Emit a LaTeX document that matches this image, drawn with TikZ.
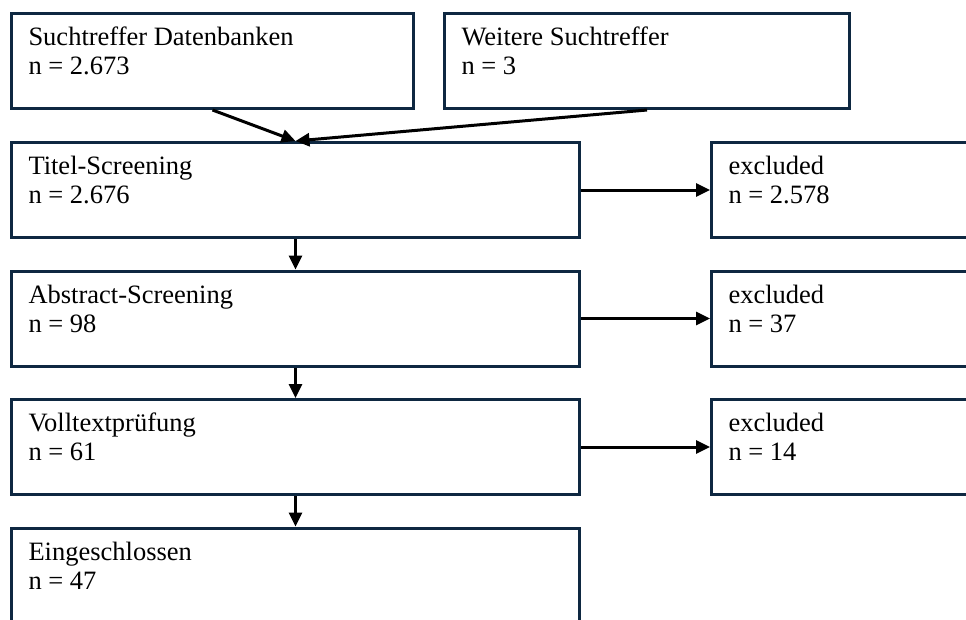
\documentclass[tikz,border=0pt]{standalone}
\usepackage{fontspec}
\setmainfont{Liberation Serif}
\usepackage{xcolor}
\usepackage{tikz}
\usetikzlibrary{arrows.meta}
\definecolor{boxline}{HTML}{0E2841}

\begin{document}
\begin{tikzpicture}[x=1pt, y=-1pt,
  every node/.style={font=\fontsize{26.5}{29}\selectfont},
  box/.style={draw=boxline, line width=3pt, rectangle, anchor=north west,
              align=flush left, inner xsep=17pt, inner ysep=0pt,
              text height=32pt, text depth=63pt},
  top/.style={box, text width=368pt},
  wide/.style={box, text width=534pt},
  side/.style={box, text width=266pt},
  arr/.style={-{Triangle[length=14pt,width=13pt]}, line width=3pt}
]
\useasboundingbox (0,0) rectangle (966,619);
\fill[white] (0,0) rectangle (966,619);
\clip (0,0) rectangle (966,619);

%% Search results
\node[top] (db)   at (10,12)  {Suchtreffer Datenbanken\\n = 2.673};
\node[box, text width=371pt] (more) at (443,12) {Weitere Suchtreffer\\n = 3};

%% Screening column
\node[wide] (title) at (10,141)   {Titel-Screening\\n = 2.676};
\node[wide] (abstr) at (10,269.5) {Abstract-Screening\\n = 98};
\node[wide] (full)  at (10,398)   {Volltextprüfung\\n = 61};
\node[wide] (incl)  at (10,526.5) {Eingeschlossen\\n = 47};

%% Excluded column
\node[side] (exTitle) at (710,141)   {excluded\\n = 2.578};
\node[side] (exAbstr) at (710,269.5) {excluded\\n = 37};
\node[side] (exFull)  at (710,398)   {excluded\\n = 14};

\draw[arr] (db.south)--(title.north); \draw[arr] (more.south)--(title.north);
\draw[arr] (title.south)--(abstr.north); \draw[arr] (abstr.south)--(full.north);
\draw[arr] (full.south)--(incl.north);
\draw[arr] (title.east)--(exTitle.west); \draw[arr] (abstr.east)--(exAbstr.west);
\draw[arr] (full.east)--(exFull.west);
\end{tikzpicture}
\end{document}
